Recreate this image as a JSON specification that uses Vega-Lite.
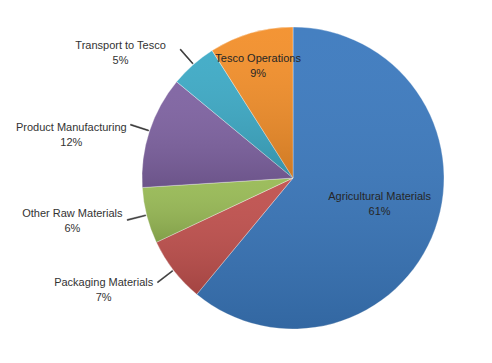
{
  "$schema": "https://vega.github.io/schema/vega-lite/v6.json",
  "width": 302,
  "height": 302,
  "autosize": "none",
  "padding": {"left": 142, "top": 27, "right": 48, "bottom": 34},
  "background": "white",
  "config": {"view": {"stroke": null}},
  "data": {"values": [
    {"category": "Agricultural Materials", "percent": 61, "order": 1},
    {"category": "Packaging Materials", "percent": 7, "order": 2},
    {"category": "Other Raw Materials", "percent": 6, "order": 3},
    {"category": "Product Manufacturing", "percent": 12, "order": 4},
    {"category": "Transport to Tesco", "percent": 5, "order": 5},
    {"category": "Tesco Operations", "percent": 9, "order": 6}
  ]},
  "transform": [
    {"stack": "percent", "groupby": [], "sort": [{"field": "order"}], "as": ["v0", "v1"]},
    {"calculate": "(datum.v0 + datum.v1) / 2", "as": "mid"},
    {"calculate": "datum.mid + 0.1", "as": "mid2"},
    {"calculate": "[datum.category, datum.percent + '%']", "as": "label"}
  ],
  "layer": [
    {
      "mark": {"type": "arc", "outerRadius": 151, "stroke": "#ffffff", "strokeWidth": 0.6, "strokeOpacity": 0.6},
      "encoding": {
        "theta": {"field": "v0", "type": "quantitative", "scale": {"domain": [0, 100]}},
        "theta2": {"field": "v1"},
        "color": {"field": "category", "type": "nominal", "legend": null,
          "scale": {
            "domain": ["Agricultural Materials", "Packaging Materials", "Other Raw Materials", "Product Manufacturing", "Transport to Tesco", "Tesco Operations"],
            "range": ["#3B79BE", "#C0504D", "#98BA55", "#7E62A1", "#3DAAC6", "#F38F2A"]
          }
        }
      }
    },
    {
      "mark": {"type": "arc", "outerRadius": 151,
        "fill": {"gradient": "linear", "x1": 0, "y1": 0, "x2": 0, "y2": 1,
          "stops": [{"offset": 0, "color": "rgba(255,255,255,0.05)"}, {"offset": 1, "color": "rgba(0,0,0,0.15)"}]}
      },
      "encoding": {
        "theta": {"field": "v0", "type": "quantitative", "scale": {"domain": [0, 100]}},
        "theta2": {"field": "v1"}
      }
    },
    {
      "transform": [{"filter": "datum.order >= 2 && datum.order <= 5"}],
      "mark": {"type": "arc", "innerRadius": 152, "outerRadius": 171, "fill": "#333333", "stroke": "#333333", "strokeWidth": 0.6},
      "encoding": {
        "theta": {"field": "mid", "type": "quantitative", "scale": {"domain": [0, 100]}},
        "theta2": {"field": "mid2"}
      }
    },
    {
      "transform": [{"filter": "datum.category === 'Agricultural Materials'"}],
      "mark": {"type": "text", "radius": 91, "dx": 1, "dy": -11.5, "align": "center", "baseline": "middle", "lineHeight": 15, "fontSize": 11, "font": "Liberation Sans", "fill": "#262626"},
      "encoding": {"theta": {"field": "mid", "type": "quantitative", "scale": {"domain": [0, 100]}}, "text": {"field": "label"}}
    },
    {
      "transform": [{"filter": "datum.category === 'Tesco Operations'"}],
      "mark": {"type": "text", "radius": 118, "dx": -2, "dy": -6, "align": "center", "baseline": "middle", "lineHeight": 15, "fontSize": 11, "font": "Liberation Sans", "fill": "#262626"},
      "encoding": {"theta": {"field": "mid", "type": "quantitative", "scale": {"domain": [0, 100]}}, "text": {"field": "label"}}
    },
    {
      "transform": [{"filter": "datum.category === 'Transport to Tesco'"}],
      "mark": {"type": "text", "radius": 170, "dx": -60, "dy": -4, "align": "center", "baseline": "middle", "lineHeight": 15, "fontSize": 11, "font": "Liberation Sans", "fill": "#333333"},
      "encoding": {"theta": {"field": "mid", "type": "quantitative", "scale": {"domain": [0, 100]}}, "text": {"field": "label"}}
    },
    {
      "transform": [{"filter": "datum.category === 'Product Manufacturing'"}],
      "mark": {"type": "text", "radius": 170, "dx": -60, "dy": 2.5, "align": "center", "baseline": "middle", "lineHeight": 15, "fontSize": 11, "font": "Liberation Sans", "fill": "#333333"},
      "encoding": {"theta": {"field": "mid", "type": "quantitative", "scale": {"domain": [0, 100]}}, "text": {"field": "label"}}
    },
    {
      "transform": [{"filter": "datum.category === 'Other Raw Materials'"}],
      "mark": {"type": "text", "radius": 170, "dx": -56, "dy": -6.5, "align": "center", "baseline": "middle", "lineHeight": 15, "fontSize": 11, "font": "Liberation Sans", "fill": "#333333"},
      "encoding": {"theta": {"field": "mid", "type": "quantitative", "scale": {"domain": [0, 100]}}, "text": {"field": "label"}}
    },
    {
      "transform": [{"filter": "datum.category === 'Packaging Materials'"}],
      "mark": {"type": "text", "radius": 170, "dx": -55, "dy": 0.5, "align": "center", "baseline": "middle", "lineHeight": 15, "fontSize": 11, "font": "Liberation Sans", "fill": "#333333"},
      "encoding": {"theta": {"field": "mid", "type": "quantitative", "scale": {"domain": [0, 100]}}, "text": {"field": "label"}}
    }
  ]
}
